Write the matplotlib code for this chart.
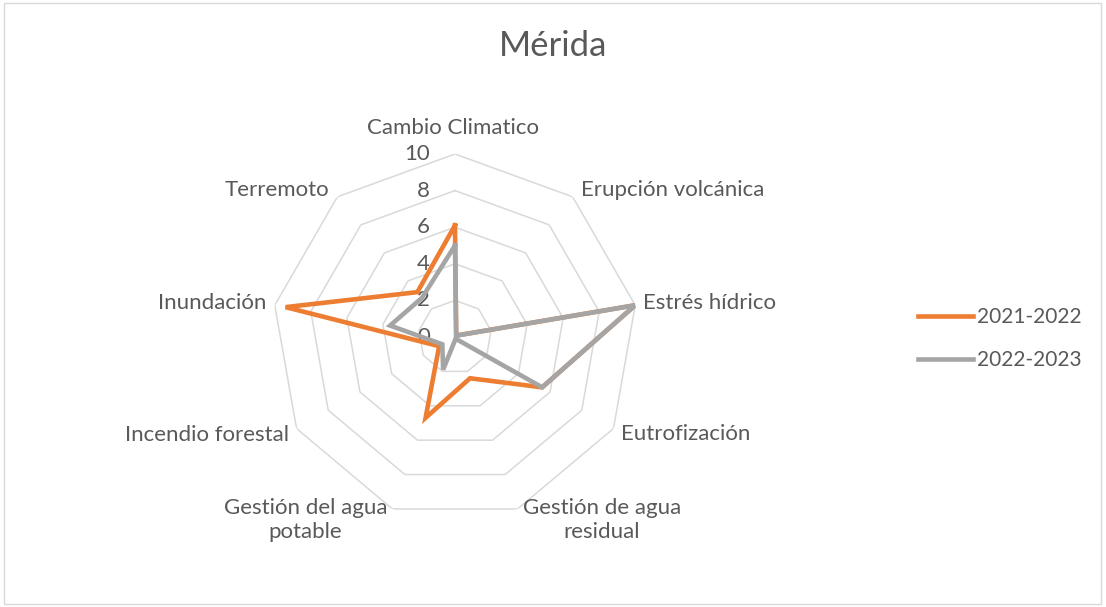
import matplotlib.pyplot as plt
import numpy as np
from matplotlib.patches import Rectangle

# data
categories = ["Cambio Climatico", "Erupción volcánica", "Estrés hídrico",
              "Eutrofización", "Gestión de agua\nresidual",
              "Gestión del agua\npotable", "Incendio forestal",
              "Inundación", "Terremoto"]
series_names = ["2021-2022", "2022-2023"]
values_2021 = [6.1, 0.1, 10, 5.5, 2.4, 4.7, 1.0, 9.4, 3.2]
values_2022 = [5.0, 0.1, 10, 5.5, 0.1, 1.9, 0.8, 3.6, 2.8]
ring_ticks = [0, 2, 4, 6, 8, 10]

colors = ["#ED7D31", "#A5A5A5"]
text_color = "#595959"

plt.rcParams['font.family'] = ['Lato', 'DejaVu Sans']

if __name__ == "__main__":
    fig = plt.figure(figsize=(11.06, 6.07), dpi=100)

    # polar axes placed so centre sits at (455, 337) px, radius 183 px
    W, H = 1106, 607
    cx, cy, R = 455, 337, 183
    ax = fig.add_axes([(cx - R) / W, (H - cy - R) / H, 2 * R / W, 2 * R / H],
                      projection='polar')
    ax.set_theta_zero_location('N')
    ax.set_theta_direction(-1)
    ax.set_ylim(0, 10)
    ax.axis('off')

    n = len(categories)
    angles = np.arange(n) * 2 * np.pi / n
    closed = np.append(angles, angles[0])

    # polygon rings (straight segments between spokes)
    for v in ring_ticks[1:]:
        ax.plot(closed, [v] * (n + 1), color="#D9D9D9", lw=1.1, zorder=1)

    # radial tick labels left of the top spoke
    for v in ring_ticks:
        ax.annotate(str(v), xy=(0, v), xytext=(-25, 0), textcoords='offset pixels',
                    ha='right', va='center', fontsize=16, color=text_color)

    # series
    lines = []
    for vals, col, name in zip([values_2021, values_2022], colors, series_names):
        ln, = ax.plot(closed, np.append(vals, vals[0]), color=col, lw=3.3,
                      solid_joinstyle='miter', label=name, zorder=3)
        lines.append(ln)

    # category labels
    for ang, lab in zip(angles, categories):
        s, c = np.sin(ang), np.cos(ang)
        if abs(s) < 0.1:
            ha = 'center'
        elif s > 0:
            ha = 'left'
        else:
            ha = 'right'
        if '\n' in lab:
            dx, dy = 5 * np.sign(s), -11
        elif abs(s) < 0.1:
            dx, dy = -2, 26
        else:
            dx = 8 * np.sign(s)
            dy = 7 if c > 0.3 else (-6 if c < -0.3 else 2)
        ax.annotate(lab, xy=(ang, 10), xytext=(dx, dy), textcoords='offset pixels',
                    ha=ha, va='center', multialignment='center', linespacing=1.3,
                    fontsize=16, color=text_color, annotation_clip=False)

    # title
    fig.text(0.5, (H - 46) / H, "Mérida", ha='center', va='center',
             fontsize=25, color=text_color)

    # legend
    fig.legend(handles=lines, labels=series_names, loc='center left',
               bbox_to_anchor=(918 / W, (H - 338.5) / H), frameon=False,
               fontsize=15, handlelength=2.65, handletextpad=0.2,
               labelspacing=1.1, borderpad=0, borderaxespad=0,
               labelcolor=text_color)

    # chart border
    fig.patches.append(Rectangle((4 / W, 3 / H), 1097 / W, 601 / H,
                                 transform=fig.transFigure, fill=False,
                                 edgecolor="#D9D9D9", lw=1))

    fig.savefig("out.png", dpi=100)
